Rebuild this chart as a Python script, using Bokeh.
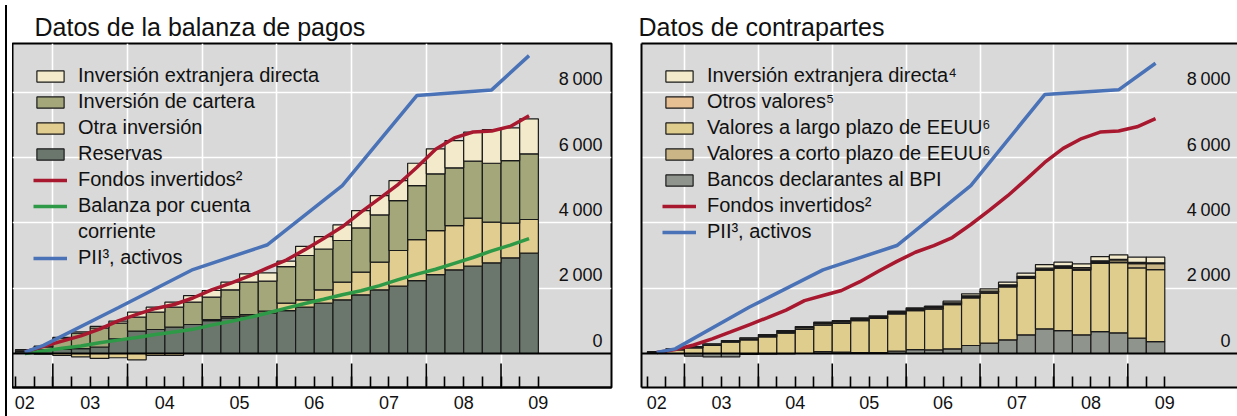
import numpy as np
from bokeh.plotting import figure
from bokeh.models import (Range1d, FixedTicker, LinearAxis, Legend, LegendItem,
                          ColumnDataSource, Span, Div)
from bokeh.layouts import row
from bokeh.embed import file_html
from bokeh.resources import INLINE
from bokeh.core.properties import value

# ---------------- data ----------------
quarters = [f"{y}Q{q}" for y in range(2002, 2010) for q in range(1, 5)][2:30]  # 2002Q3 .. 2009Q2
year_labels = ["02", "03", "04", "05", "06", "07", "08", "09"]
y_tick_values = [0, 2000, 4000, 6000, 8000]
y_tick_labels = ["0", "2\u2009000", "4\u2009000", "6\u2009000", "8\u2009000"]

# Left panel: balance of payments data
reservas = [60, 110, 130, 150, 200, 449, 684, 735, 806, 888, 1010, 1092, 1153, 1235,
            1316, 1418, 1541, 1643, 1796, 1949, 2061, 2234, 2418, 2561, 2673, 2775, 2928, 3071]
otra_inversion = [0, -20, -60, -100, -150, -130, -194, -60, -60, 0, 30, 41, 41, 60,
                  224, 225, 408, 540, 693, 846, 1092, 1255, 1347, 1357, 1469, 1245, 1061, 1031]
inversion_cartera = [40, 94, 338, 471, 581, 480, 428, 530, 612, 683, 684, 816, 989, 919,
                     1123, 1357, 1251, 1276, 1357, 1449, 1530, 1653, 1735, 1765, 1745, 1805, 1918, 2010]
ied_left = [20, 20, 30, 40, 50, 60, 153, 153, 153, 204, 205, 234, 255, 255,
            163, 280, 380, 479, 531, 592, 612, 683, 765, 837, 888, 1031, 1000, 1072]
fondos_left = [50, 220, 380, 540, 750, 1000, 1200, 1380, 1500, 1700, 1950, 2150, 2370, 2620,
               2860, 3180, 3520, 3880, 4330, 4750, 5180, 5700, 6250, 6600, 6780, 6810, 6950, 7280]
cuenta_corriente = [0, 80, 160, 230, 330, 410, 490, 580, 660, 740, 870, 980, 1100, 1240,
                    1390, 1530, 1660, 1800, 1920, 2080, 2260, 2430, 2580, 2760, 2940, 3140, 3320, 3520]
pii_quarters = ["2002Q3", "2002Q4", "2003Q4", "2004Q4", "2005Q4", "2006Q4", "2007Q4", "2008Q4", "2009Q2"]
pii_left = [40, 250, 1400, 2570, 3330, 5140, 7900, 8070, 9120]

# Right panel: counterparty data
bancos_bpi = [0, 0, -80, -100, -100, -30, -20, -10, 0, 60, 40, 30, 30, 72,
              122, 112, 143, 245, 316, 418, 571, 755, 704, 571, 673, 633, 469, 367]
largo_plazo = [35, 110, 174, 251, 348, 420, 507, 624, 736, 809, 885, 977, 1043, 1139,
               1191, 1247, 1354, 1461, 1533, 1625, 1728, 1799, 1911, 1983, 2086, 2147, 2150, 2202]
corto_plazo = [10, 15, 20, 20, 25, 30, 40, 40, 45, 45, 40, 35, 30, 30,
               30, 30, 30, 30, 30, 30, 30, 30, 30, 40, 40, 60, 130, 180]
otros_valores = [10, 10, 10, 15, 15, 20, 25, 25, 30, 30, 30, 30, 30, 30,
                 25, 25, 25, 30, 30, 30, 30, 30, 40, 40, 40, 40, 40, 30]
ied_right = [5, 8, 10, 10, 10, 10, 10, 15, 15, 15, 15, 20, 20, 25,
             30, 35, 50, 60, 70, 80, 100, 110, 110, 110, 130, 140, 160, 170]
fondos_right = [30, 120, 260, 450, 660, 880, 1100, 1330, 1620, 1775, 1930, 2200, 2520, 2820,
                3100, 3300, 3550, 3950, 4380, 4830, 5330, 5850, 6280, 6580, 6780, 6810, 6940, 7190]
pii_right = [30, 143, 1418, 2561, 3306, 5142, 7928, 8071, 8886]

# ---------------- helpers ----------------
FONT = "Liberation Sans"
TXT = "#111111"


def q_start(q):
    return int(q[:4]) + (int(q[5]) - 1) * 0.25


def q_center(q):
    return q_start(q) + 0.125


bar_x = [q_center(q) for q in quarters]
bar_w = 0.25
pii_x = [q_center(q) for q in pii_quarters]
year_bounds = sorted({int(q[:4]) for q in quarters if q.endswith("Q1")})
quarter_bounds = [q_start(q) for q in quarters] + [q_start(quarters[-1]) + 0.25]
first_year = int(quarters[0][:4])
label_pos = [max(first_year + i + 0.5, bar_x[0]) for i in range(len(year_labels))]
Y0, Y1 = -1040, 9490
LONG_TICK = 735  # length of the year-boundary ticks, in data units
FIG_H = 416


def stack(series):
    pos = np.zeros(len(series[0]))
    neg = np.zeros(len(series[0]))
    out = []
    for s in series:
        s = np.asarray(s, dtype=float)
        bottom = np.where(s >= 0, pos, neg + s)
        top = np.where(s >= 0, pos + s, neg)
        pos = pos + np.where(s >= 0, s, 0)
        neg = neg + np.where(s < 0, s, 0)
        out.append((bottom, top))
    return out


def border_axis(p, side):
    ax = LinearAxis(ticker=FixedTicker(ticks=[]))
    ax.axis_line_color = "black"
    ax.axis_line_width = 2
    ax.major_tick_line_color = None
    ax.minor_tick_line_color = None
    ax.major_label_standoff = 0
    p.add_layout(ax, side)


def make_panel(title, x_rng, width, mb_left, mb_right, title_offset, full_outline):
    p = figure(width=width, height=FIG_H, output_backend="svg", toolbar_location=None, tools="",
               x_range=x_rng, y_range=Range1d(Y0, Y1),
               x_axis_location=None, y_axis_location=None,
               min_border_left=mb_left, min_border_right=mb_right,
               min_border_top=43, min_border_bottom=29)
    p.background_fill_color = "#d9d9d9"
    p.border_fill_color = "white"
    if full_outline:
        p.outline_line_color = "black"
        p.outline_line_width = 2
    else:
        p.outline_line_color = None
        border_axis(p, "left")
        border_axis(p, "above")
    p.title.text = title
    p.title.text_font = FONT
    p.title.text_font_size = "25px"
    p.title.text_font_style = "normal"
    p.title.text_color = TXT
    p.title.offset = title_offset
    p.title.standoff = 6
    p.xgrid.ticker = FixedTicker(ticks=year_bounds)
    p.ygrid.ticker = FixedTicker(ticks=y_tick_values[1:])
    for g in (p.xgrid, p.ygrid):
        g.grid_line_color = "white"
        g.grid_line_width = 1.6
        g.grid_line_alpha = 1.0

    # long ticks at year boundaries, rising from the bottom edge
    p.segment(x0=year_bounds, x1=year_bounds, y0=[Y0] * len(year_bounds),
              y1=[Y0 + LONG_TICK] * len(year_bounds), line_color="black", line_width=1.6)

    ax = LinearAxis(ticker=FixedTicker(ticks=label_pos, minor_ticks=quarter_bounds))
    ax.major_label_overrides = {pos: lab for pos, lab in zip(label_pos, year_labels)}
    ax.axis_line_color = "black"
    ax.axis_line_width = 2
    ax.major_tick_line_color = None
    ax.major_tick_in = 0
    ax.major_tick_out = 0
    ax.minor_tick_in = 11
    ax.minor_tick_out = 0
    ax.minor_tick_line_color = "black"
    ax.minor_tick_line_width = 1.6
    ax.major_label_standoff = 8
    ax.major_label_text_font = FONT
    ax.major_label_text_font_size = "18px"
    ax.major_label_text_color = TXT
    p.add_layout(ax, "below")

    p.text(x=[x_rng.end] * len(y_tick_values), y=y_tick_values, text=y_tick_labels,
           text_align="right", text_baseline="alphabetic", x_offset=-9, y_offset=-13,
           text_font=value(FONT), text_font_size=value("18px"), text_color=TXT)
    return p


def add_bars(p, series, colors):
    rends = []
    for (bottom, top), c in zip(stack(series), colors):
        src = ColumnDataSource(dict(x=bar_x, bottom=bottom, top=top))
        r = p.vbar(x="x", width=bar_w, bottom="bottom", top="top", source=src,
                   fill_color=c, line_color="#1a1a1a", line_width=1.2)
        rends.append(r)
    return rends


def finish_legend(p, items):
    leg = Legend(items=items, location="top_left")
    leg.background_fill_alpha = 0
    leg.border_line_color = None
    leg.label_text_font = FONT
    leg.label_text_font_size = "20px"
    leg.label_text_color = TXT
    leg.glyph_width = 34
    leg.glyph_height = 14
    leg.label_standoff = 11
    leg.label_height = 20
    leg.spacing = 3
    leg.margin = 21
    leg.padding = 0
    p.add_layout(leg)


# ---------------- left panel ----------------
RED, GREEN, BLUE = "#a8182f", "#2e9a47", "#4a72b6"
xl = Range1d(2002.46, 2010.479)
p1 = make_panel("Datos de la balanza de pagos", xl, 614, 0, 15, 22, True)
c_res, c_otra, c_cart, c_ied = "#6b776c", "#e0cd8f", "#a3a77a", "#f2eaca"
b = add_bars(p1, [reservas, otra_inversion, inversion_cartera, ied_left],
             [c_res, c_otra, c_cart, c_ied])
g1 = p1.line(bar_x, cuenta_corriente, line_width=3.5, color=GREEN)
r1 = p1.line(bar_x, fondos_left, line_width=3.5, color=RED)
bl1 = p1.line(pii_x, pii_left, line_width=3.5, color=BLUE)
blank = p1.line(x=[], y=[], line_alpha=0)  # carries the wrapped second legend line
p1.add_layout(Span(location=0, dimension="width", line_color="black", line_width=2))
finish_legend(p1, [
    LegendItem(label="Inversión extranjera directa", renderers=[b[3]]),
    LegendItem(label="Inversión de cartera", renderers=[b[2]]),
    LegendItem(label="Otra inversión", renderers=[b[1]]),
    LegendItem(label="Reservas", renderers=[b[0]]),
    LegendItem(label="Fondos invertidos²", renderers=[r1]),
    LegendItem(label="Balanza por cuenta", renderers=[g1]),
    LegendItem(label="corriente", renderers=[blank]),
    LegendItem(label="PII³, activos", renderers=[bl1]),
])

# ---------------- right panel ----------------
xr = Range1d(2002.419, 2010.511)
p2 = make_panel("Datos de contrapartes", xr, 613, 15, 0, -3, False)
c_bpi, c_largo, c_corto, c_otros, c_ied2 = "#8f958c", "#dfcd8e", "#c9b585", "#e6bf93", "#f2eaca"
b2 = add_bars(p2, [bancos_bpi, largo_plazo, corto_plazo, otros_valores, ied_right],
              [c_bpi, c_largo, c_corto, c_otros, c_ied2])
r2 = p2.line(bar_x, fondos_right, line_width=3.5, color=RED)
bl2 = p2.line(pii_x, pii_right, line_width=3.5, color=BLUE)
p2.add_layout(Span(location=0, dimension="width", line_color="black", line_width=2))
finish_legend(p2, [
    LegendItem(label="Inversión extranjera directa⁴", renderers=[b2[4]]),
    LegendItem(label="Otros valores⁵", renderers=[b2[3]]),
    LegendItem(label="Valores a largo plazo de EEUU⁶", renderers=[b2[1]]),
    LegendItem(label="Valores a corto plazo de EEUU⁶", renderers=[b2[2]]),
    LegendItem(label="Bancos declarantes al BPI", renderers=[b2[0]]),
    LegendItem(label="Fondos invertidos²", renderers=[r2]),
    LegendItem(label="PII³, activos", renderers=[bl2]),
])

edge = Div(width=2, height=FIG_H, styles={"background-color": "black"})
layout = row(edge, p1, p2)
open("out.html", "w").write(file_html(layout, INLINE))
